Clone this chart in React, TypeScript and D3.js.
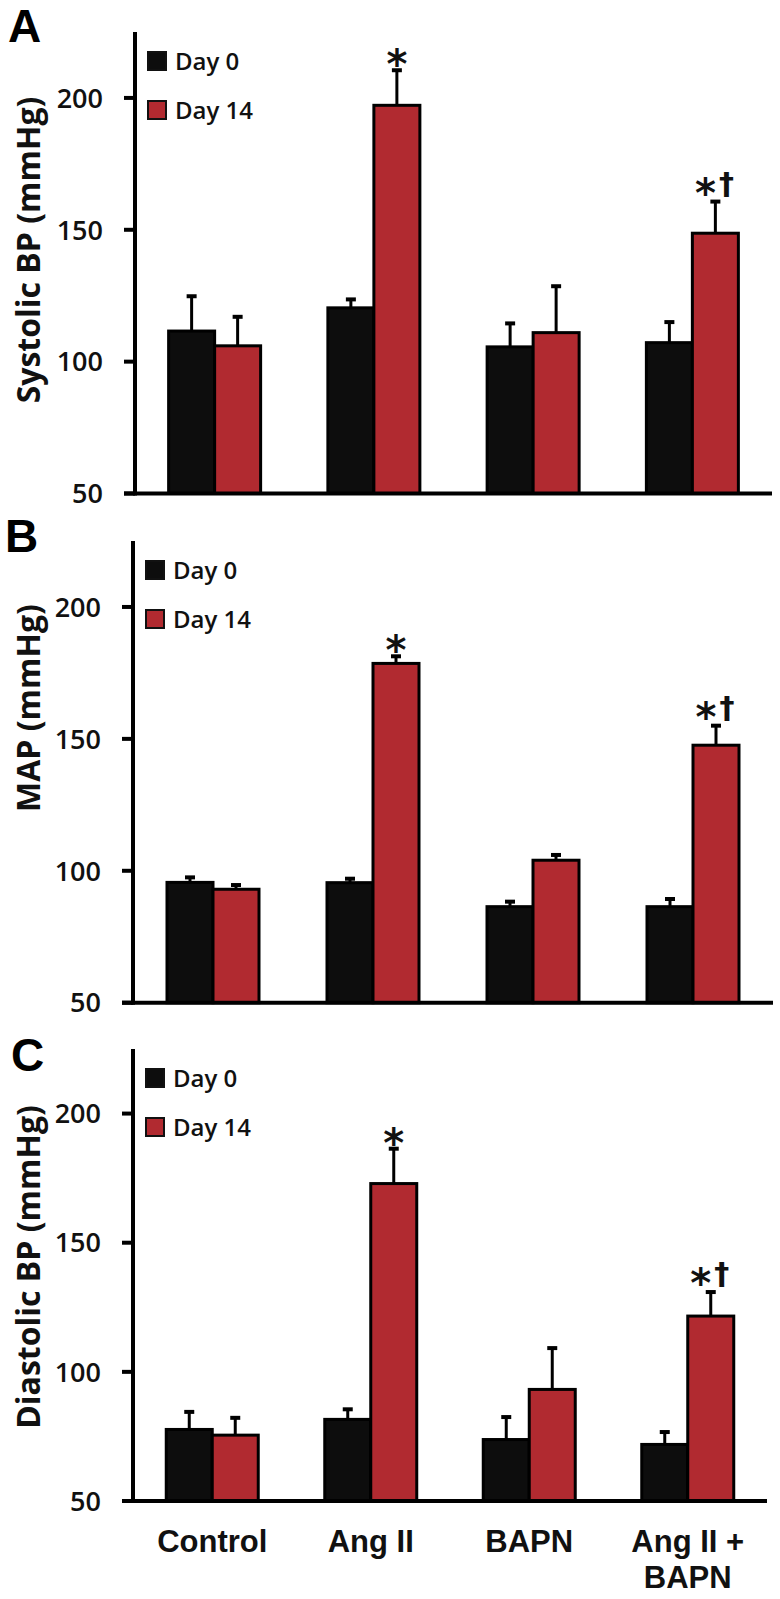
import React from 'react';
import * as d3 from 'd3';

const categories = ['Control', 'Ang II', 'BAPN', 'Ang II + BAPN'];
const seriesNames = ['Day 0', 'Day 14'];
const yTicks = [50, 100, 150, 200];
const panelLetters = ['A', 'B', 'C'];
const yTitles = ['Systolic BP (mmHg)', 'MAP (mmHg)', 'Diastolic BP (mmHg)'];

const sbpDay0 = [111.6, 120.4, 105.6, 107.2];
const sbpDay0Err = [13.2, 3.2, 8.9, 7.8];
const sbpDay14 = [106, 197.2, 111, 148.7];
const sbpDay14Err = [11, 13.3, 17.6, 12];

const mapDay0 = [95.6, 95.5, 86.4, 86.4];
const mapDay0Err = [1.9, 1.5, 1.9, 2.9];
const mapDay14 = [93, 178.6, 104, 147.6];
const mapDay14Err = [1.6, 2.7, 2, 7.4];

const dbpDay0 = [77.7, 81.6, 73.8, 71.9];
const dbpDay0Err = [6.8, 3.9, 8.7, 4.8];
const dbpDay14 = [75.5, 172.9, 93.2, 121.6];
const dbpDay14Err = [6.7, 13.5, 16, 9.3];

const starMarks = ['', '*', '', '*'];
const daggerMarks = ['', '', '', '†'];

const yDomain = [50, 225];

const panelsData = [
  { d0: sbpDay0, e0: sbpDay0Err, d14: sbpDay14, e14: sbpDay14Err },
  { d0: mapDay0, e0: mapDay0Err, d14: mapDay14, e14: mapDay14Err },
  { d0: dbpDay0, e0: dbpDay0Err, d14: dbpDay14, e14: dbpDay14Err },
];

// layout (pixel geometry)
const layouts = [
  { axisX: 135, top: 32, base: 493.5, right: 772, letterX: 8, letterY: 42, titleY: 250 },
  { axisX: 133, top: 541, base: 1002.7, right: 773, letterX: 5, letterY: 552, titleY: 708 },
  { axisX: 133, top: 1049, base: 1501, right: 767, letterX: 11, letterY: 1071, titleY: 1267 },
];

const RED = '#b12a30';
const BLACK = '#0d0d0d';
const tickFont = '"Open Sans", sans-serif';
const catFont = '"Liberation Sans", Arial, sans-serif';

function Panel({ idx, showCats }: { idx: number; showCats: boolean }) {
  const L = layouts[idx];
  const D = panelsData[idx];
  const y = d3.scaleLinear().domain(yDomain).range([L.base, L.top]);
  const x = d3.scaleBand().domain(categories).range([L.axisX, L.right]).padding(0);
  const barW = 46;
  const series = [
    { vals: D.d0, errs: D.e0, fill: BLACK, dx: -barW },
    { vals: D.d14, errs: D.e14, fill: RED, dx: 0 },
  ];
  return (
    <g>
      <text x={L.letterX} y={L.letterY} fontFamily={catFont} fontWeight={700} fontSize={46} fill="#000">
        {panelLetters[idx]}
      </text>
      <text
        transform={`translate(40,${L.titleY}) rotate(-90)`}
        textAnchor="middle"
        fontFamily={tickFont}
        fontWeight={700}
        fontSize={32}
        fill="#111"
      >
        {yTitles[idx]}
      </text>
      {series.map((s, si) =>
        categories.map((c, ci) => {
          const cx = (x(c) as number) + x.bandwidth() / 2;
          const x0 = cx + s.dx;
          const top = y(s.vals[ci]);
          const eTop = y(s.vals[ci] + s.errs[ci]);
          const ex = x0 + barW / 2;
          return (
            <g key={`${si}-${ci}`}>
              <line x1={ex} x2={ex} y1={top} y2={eTop} stroke="#000" strokeWidth={3} />
              <line x1={ex - 5} x2={ex + 5} y1={eTop} y2={eTop} stroke="#000" strokeWidth={4} />
              <rect x={x0} y={top} width={barW} height={L.base - top} fill={s.fill} stroke="#000" strokeWidth={3} />
            </g>
          );
        })
      )}
      {categories.map((c, ci) => {
        const cx = (x(c) as number) + x.bandwidth() / 2 + barW / 2;
        const eTop = y(D.d14[ci] + D.e14[ci]);
        const hasDagger = daggerMarks[ci] !== '';
        return (
          <g key={`m-${ci}`}>
            {starMarks[ci] && (
              <text
                x={hasDagger ? cx - 10 : cx}
                y={eTop + (hasDagger ? 5 : 8)}
                textAnchor="middle"
                fontFamily='"DejaVu Sans", sans-serif'
                fontWeight={700}
                fontSize={40}
                fill="#111"
              >
                {starMarks[ci]}
              </text>
            )}
            {hasDagger && (
              <text
                x={cx + 11}
                y={eTop - 8}
                textAnchor="middle"
                fontFamily='"DejaVu Sans", sans-serif'
                fontWeight={700}
                fontSize={30}
                fill="#111"
              >
                {daggerMarks[ci]}
              </text>
            )}
          </g>
        );
      })}
      {/* axes */}
      <line x1={L.axisX} x2={L.axisX} y1={L.top} y2={L.base + 2} stroke="#000" strokeWidth={4} />
      <line x1={L.axisX - 11} x2={L.right} y1={L.base} y2={L.base} stroke="#000" strokeWidth={4} />
      {yTicks.map((t) => (
        <g key={t}>
          <line x1={L.axisX - 11} x2={L.axisX} y1={y(t)} y2={y(t)} stroke="#000" strokeWidth={4} />
          <text
            x={L.axisX - 32}
            y={y(t)}
            dy="0.36em"
            textAnchor="end"
            fontFamily={tickFont}
            fontWeight={600}
            fontSize={27}
            fill="#111"
          >
            {t}
          </text>
        </g>
      ))}
      {/* legend */}
      {seriesNames.map((n, si) => {
        const ly = L.top + 20 + si * 49;
        return (
          <g key={n}>
            <rect x={L.axisX + 13} y={ly} width={18} height={18} fill={si === 0 ? BLACK : RED} stroke="#111" strokeWidth={2} />
            <text x={L.axisX + 40} y={ly + 9} dy="0.36em" fontFamily={tickFont} fontWeight={600} fontSize={24} fill="#111">
              {n}
            </text>
          </g>
        );
      })}
      {showCats &&
        categories.map((c) => {
          const cx = (x(c) as number) + x.bandwidth() / 2;
          const lines = c.includes(' + ') ? [c.split(' + ')[0] + ' +', c.split(' + ')[1]] : [c];
          return (
            <text key={c} textAnchor="middle" fontFamily={catFont} fontWeight={700} fontSize={31} fill="#111">
              {lines.map((ln, li) => (
                <tspan key={li} x={cx} y={L.base + 51 + li * 36}>
                  {ln}
                </tspan>
              ))}
            </text>
          );
        })}
    </g>
  );
}

export default function App() {
  return (
    <svg width={780} height={1599} style={{ position: 'absolute', left: 0, top: 0, background: '#fff' }}>
      <rect x={0} y={0} width={780} height={1599} fill="#fff" />
      <Panel idx={0} showCats={false} />
      <Panel idx={1} showCats={false} />
      <Panel idx={2} showCats={true} />
    </svg>
  );
}
